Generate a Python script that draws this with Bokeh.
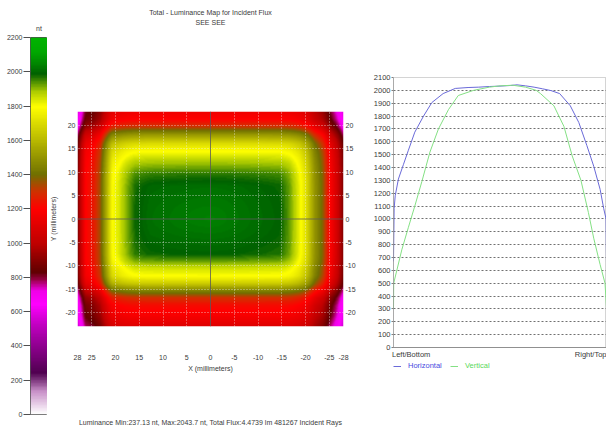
import numpy as np
from bokeh.plotting import figure
from bokeh.layouts import row, column
from bokeh.models import (Range1d, LinearColorMapper, FixedTicker, Span,
                          Legend, LegendItem, LinearAxis)
from bokeh.embed import file_html
from bokeh.resources import INLINE

FONT = "Liberation Sans"
TXT = "#3a3a3a"

# ---------------- data ----------------
cbar_ticks = [0, 200, 400, 600, 800, 1000, 1200, 1400, 1600, 1800, 2000, 2200]
scale_values = [0, 130, 240, 400, 520, 640, 720, 780, 830, 1000, 1200, 1300,
                1400, 1600, 1800, 1890, 1990, 2040, 2120, 2200]
scale_colors = ["#ffffff", "#c890c8", "#500050", "#900090", "#c000c0", "#ff00ff",
                "#f000e8", "#a00050", "#600000", "#c00000", "#ff0000", "#d03000",
                "#707000", "#b8b800", "#ffff00", "#a8c800", "#006000", "#008000",
                "#00a800", "#00b400"]

# cross-sections of the luminance map (along y=0 and along x=0), nt
map_x_mm = [-28, -26.8, -25.2, -23.7, -22, -20.3, -18.8, -16.7, -14.6, 0,
            12.7, 15.9, 18, 19.5, 20.7, 21.8, 23.3, 24.7, 26.4, 27.5, 28]
map_x_nt = [900, 1050, 1200, 1380, 1500, 1700, 1820, 1930, 1990, 2040,
            2010, 1980, 1900, 1830, 1800, 1600, 1350, 1250, 1200, 1000, 900]
map_y_mm = [-23, -20.7, -18.6, -16.9, -15.4, -13.9, -12.2, -10.5, -9, -7.5, 0,
            7, 9.8, 12.4, 14.5, 16.2, 18.2, 19.9, 21.4, 23]
map_y_nt = [1100, 1180, 1220, 1300, 1450, 1650, 1800, 1850, 1930, 1990, 2040,
            2010, 1960, 1880, 1800, 1700, 1500, 1300, 1200, 1150]
map_center_nt = 2040

map_x_ticks = [28, 25, 20, 15, 10, 5, 0, -5, -10, -15, -20, -25, -28]
map_y_ticks = [-20, -15, -10, -5, 0, 5, 10, 15, 20]

# profiles (position 0 = Left/Bottom, 100 = Right/Top)
profile_pos_h = [0, 0.3, 0.8, 2.3, 4.7, 6.9, 10, 14.1, 18, 23.3, 29, 35, 40, 45,
                 50, 55, 58, 62, 66, 70, 74, 78, 83, 87, 90.8, 94, 97, 98.7,
                 99.8, 100]
horizontal = [670, 1080, 1180, 1310, 1425, 1530, 1675, 1800, 1905, 1975, 2015,
              2022, 2025, 2030, 2033, 2038, 2043, 2035, 2025, 2012, 1998, 1975,
              1880, 1750, 1570, 1410, 1230, 1080, 1000, 660]
profile_pos_v = [0, 0.1, 3.9, 7, 10, 13.3, 17.1, 21.1, 25.8, 30.4, 37.6, 45, 50,
                 56, 62, 67, 69, 75.3, 80, 83.9, 88, 91.5, 94, 97, 99.3, 100]
vertical = [300, 500, 760, 935, 1100, 1290, 1520, 1700, 1850, 1960, 2000, 2025,
            2035, 2040, 2025, 2000, 1975, 1880, 1720, 1490, 1300, 1050, 850, 645,
            500, 310]
profile_ticks = list(range(0, 2101, 100))
end_labels = {8.3: "Left/Bottom", 92.8: "Right/Top"}

title_1 = "Total - Luminance Map for Incident Flux"
title_2 = "SEE SEE"
footer = "Luminance Min:237.13 nt, Max:2043.7 nt, Total Flux:4.4739 lm 481267 Incident Rays"

H_COL = "#6a6ad8"
V_COL = "#84e084"

# ---------------- palette ----------------
def hex2rgb(h):
    return [int(h[i:i + 2], 16) for i in (1, 3, 5)]

rgb = np.array([hex2rgb(c) for c in scale_colors], dtype=float)
palette = []
for v in np.linspace(0, 2200, 256):
    r, g, b = (int(round(np.interp(v, scale_values, rgb[:, k]))) for k in range(3))
    palette.append("#%02x%02x%02x" % (r, g, b))
mapper = LinearColorMapper(palette=palette, low=0, high=2200)

H = 435


def style_axis(ax, size="7px"):
    ax.major_label_text_font = FONT
    ax.major_label_text_font_size = size
    ax.major_label_text_color = TXT
    ax.axis_label_text_font = FONT
    ax.axis_label_text_font_size = size
    ax.axis_label_text_font_style = "normal"
    ax.axis_label_text_color = TXT


def plain_ticks(ax):
    ax.major_tick_out = 0
    ax.major_tick_in = 0
    ax.minor_tick_out = 0
    ax.minor_tick_in = 0
    ax.major_tick_line_color = None
    ax.minor_tick_line_color = None
    ax.axis_line_color = None


def text_axis(text, standoff, size="7px"):
    ax = LinearAxis(ticker=FixedTicker(ticks=[]), axis_label=text,
                    axis_label_standoff=standoff)
    plain_ticks(ax)
    ax.major_label_standoff = 0
    style_axis(ax, size)
    return ax


def hyphen_labels(ticks):
    return {t: ("%g" % t) for t in ticks}


# ---------------- colour bar ----------------
pa = figure(width=47, height=H, x_range=Range1d(0, 1), y_range=Range1d(0, 2200),
            output_backend="svg", toolbar_location=None,
            min_border_left=30, min_border_right=0, min_border_top=37,
            min_border_bottom=21)
grad = np.linspace(0, 2200, 512).reshape(-1, 1)
pa.image(image=[grad], x=0, y=0, dw=1, dh=2200, color_mapper=mapper)
pa.xaxis.visible = False
pa.grid.visible = False
pa.outline_line_color = "#505050"
ya = pa.yaxis[0]
ya.ticker = FixedTicker(ticks=cbar_ticks)
ya.major_tick_out = 7
ya.major_tick_in = 0
ya.minor_tick_out = 0
ya.minor_tick_in = 0
ya.major_label_standoff = 1
ya.axis_line_color = None
ya.major_tick_line_color = "#505050"
style_axis(ya)
pa.title.text = "nt"
pa.title.align = "center"
pa.title.text_font = FONT
pa.title.text_font_size = "7px"
pa.title.text_font_style = "normal"
pa.title.text_color = TXT
pa.title.standoff = 12

# ---------------- luminance map ----------------
pb = figure(width=318, height=H, x_range=Range1d(28, -28), y_range=Range1d(-23, 23),
            output_backend="svg", toolbar_location=None, title=None,
            min_border_left=30, min_border_right=22, min_border_top=111,
            min_border_bottom=109)
xs = np.linspace(-28, 28, 266)
ys = np.linspace(-23, 23, 215)
dx = map_center_nt - np.interp(xs, map_x_mm, map_x_nt)
dy = map_center_nt - np.interp(ys, map_y_mm, map_y_nt)
lum = map_center_nt - np.hypot(dx[None, :], dy[:, None])
pb.image(image=[lum], x=-28, y=-23, dw=56, dh=46, color_mapper=mapper)
pb.outline_line_color = None

for g, t in ((pb.xgrid, [25, 20, 15, 10, 5, -5, -10, -15, -20, -25]),
             (pb.ygrid, [-20, -15, -10, -5, 5, 10, 15, 20])):
    g.ticker = FixedTicker(ticks=t)
    g.grid_line_color = "#f0f0f0"
    g.grid_line_alpha = 0.7
    g.grid_line_dash = "1 2"
    g.level = "overlay"
for dim in ("height", "width"):
    pb.add_layout(Span(location=0, dimension=dim, line_color="#5a5a5a",
                       line_width=1, line_alpha=0.8, level="overlay"))

xa = pb.xaxis[0]
xa.ticker = FixedTicker(ticks=map_x_ticks)
xa.major_label_overrides = hyphen_labels(map_x_ticks)
xa.axis_label = "X (millimeters)"
plain_ticks(xa)
xa.major_label_standoff = 28
xa.axis_label_standoff = 2
style_axis(xa)

yl = pb.yaxis[0]
yl.ticker = FixedTicker(ticks=map_y_ticks)
yl.axis_label = "Y (millimeters)"
yl.axis_label_standoff = 5
yr = LinearAxis(ticker=FixedTicker(ticks=map_y_ticks))
pb.add_layout(yr, "right")
for ax in (yl, yr):
    plain_ticks(ax)
    ax.major_label_overrides = hyphen_labels(map_y_ticks)
    ax.major_label_standoff = 2
    style_axis(ax)

pb.add_layout(text_axis(title_2, 86), "above")
pb.add_layout(text_axis(title_1, 0), "above")
pb.add_layout(text_axis(footer, 44), "below")

# ---------------- profiles ----------------
pc = figure(width=241, height=361, x_range=Range1d(0, 100), y_range=Range1d(0, 2100),
            output_backend="svg", toolbar_location=None,
            min_border_left=28, min_border_right=0, min_border_top=77,
            min_border_bottom=11)
pc.outline_line_color = "#a8a8a8"
pc.outline_line_dash = "1 1"
pc.line(profile_pos_h, horizontal, line_color=H_COL, line_width=1)
pc.line(profile_pos_v, vertical, line_color=V_COL, line_width=1)
pc.xgrid.visible = False
pc.ygrid.ticker = FixedTicker(ticks=profile_ticks[1:])
pc.ygrid.grid_line_color = "#707070"
pc.ygrid.grid_line_dash = "2 2"
pc.ygrid.grid_line_width = 1

cx = pc.xaxis[0]
cx.ticker = FixedTicker(ticks=list(end_labels.keys()))
cx.major_label_overrides = end_labels
plain_ticks(cx)
cx.axis_line_color = "#909090"
cx.major_label_standoff = 2
style_axis(cx, "7.5px")
cy = pc.yaxis[0]
cy.ticker = FixedTicker(ticks=profile_ticks)
cy.axis_line_color = "#808080"
cy.axis_line_dash = "1 1"
cy.major_tick_out = 2
cy.major_tick_in = 0
cy.major_tick_line_color = "#808080"
cy.minor_tick_out = 0
cy.minor_tick_in = 0
cy.minor_tick_line_color = None
cy.major_label_standoff = 1
style_axis(cy, "7.5px")

# legend strip under the profiles (same series, drawn outside its visible range)
pl = figure(width=241, height=H - 361, x_range=Range1d(0, 1), y_range=Range1d(0, 1),
            output_backend="svg", toolbar_location=None,
            min_border_left=28, min_border_right=0, min_border_top=0,
            min_border_bottom=0)
pl.axis.visible = False
pl.grid.visible = False
pl.outline_line_color = None
kh = pl.line(profile_pos_h, horizontal, line_color=H_COL, line_width=1)
kv = pl.line(profile_pos_v, vertical, line_color=V_COL, line_width=1)
for item_label, rend, col, loc in (("Horizontal", kh, "#4848e0", (0, 65)),
                                   ("Vertical", kv, "#5ad85a", (57, 65))):
    pl.add_layout(Legend(items=[LegendItem(label=item_label, renderers=[rend])],
                         location=loc, orientation="horizontal", padding=0,
                         margin=0, spacing=0, glyph_width=8, glyph_height=8,
                         label_standoff=7, label_height=8, label_text_font=FONT,
                         label_text_font_size="7.5px", label_text_color=col,
                         border_line_color=None, background_fill_alpha=0))

layout = row(column(pa), column(pb), column(pc, pl), spacing=0)
open("out.html", "w").write(file_html(layout, INLINE))
